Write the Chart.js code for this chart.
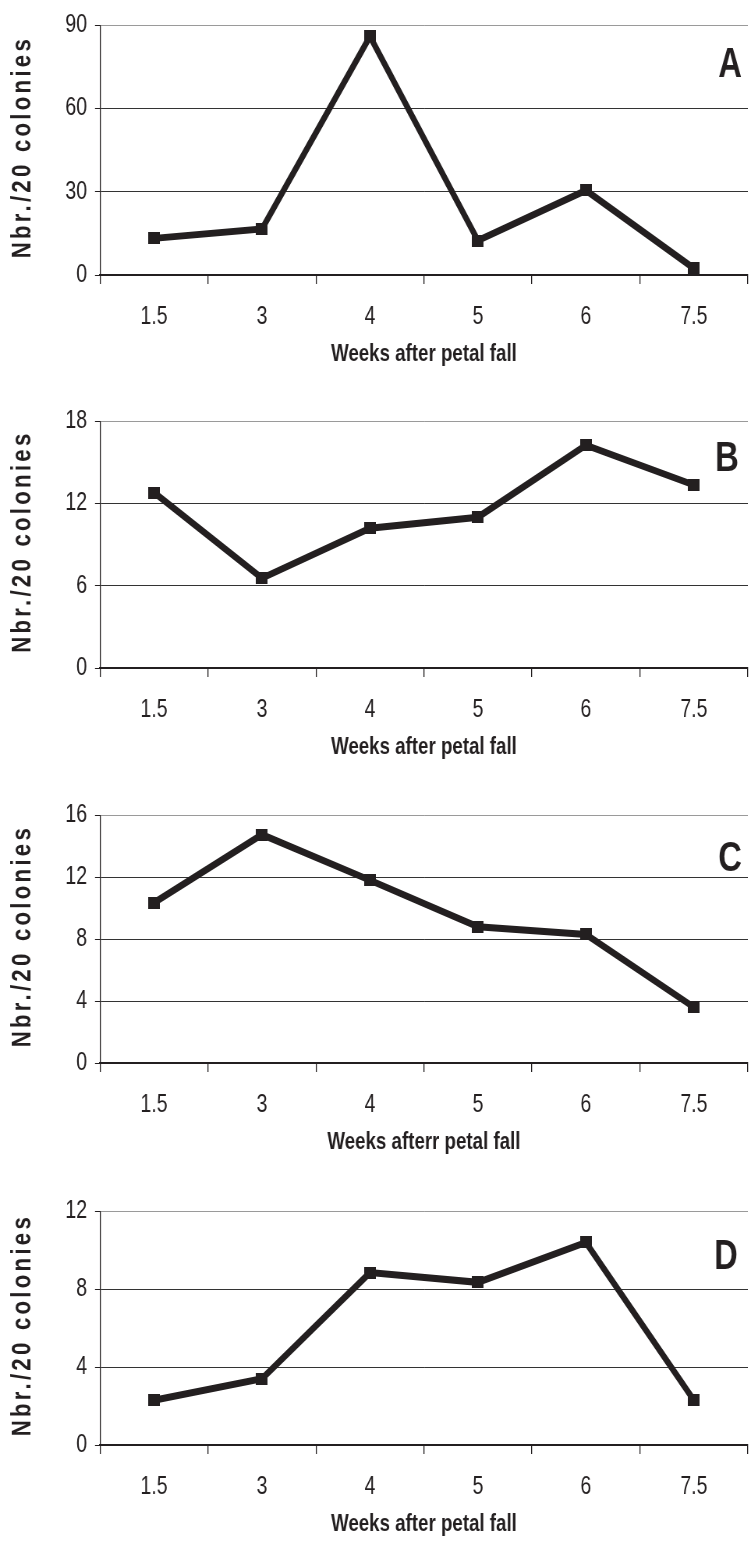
<!DOCTYPE html>
<html>
<head>
<meta charset="utf-8">
<script src="https://cdn.jsdelivr.net/npm/chart.js@4.4.1/dist/chart.umd.min.js"></script>
<style>
  html, body { margin: 0; padding: 0; background: #fff; overflow: hidden; width: 753px; height: 1544px; }
  .panel { position: absolute; left: 0; width: 758px; }
  canvas { display: block; }
</style>
</head>
<body>
<div class="panel" style="top:0px"><canvas id="chartA" width="972" height="373" style="width:758px;height:373px"></canvas></div>
<div class="panel" style="top:396px"><canvas id="chartB" width="972" height="370" style="width:758px;height:370px"></canvas></div>
<div class="panel" style="top:790px"><canvas id="chartC" width="972" height="371" style="width:758px;height:371px"></canvas></div>
<div class="panel" style="top:1186px"><canvas id="chartD" width="972" height="357" style="width:758px;height:357px"></canvas></div>

<script>
// weeks after petal fall (x categories)
const weeks = ['1.5', '3', '4', '5', '6', '7.5'];

// Nbr./20 colonies, one series per panel
const seriesA = [13.2, 16.6, 86, 12.4, 30.5, 2.4];
const seriesB = [12.8, 6.55, 10.2, 11.0, 16.25, 13.35];
const seriesC = [10.35, 14.75, 11.8, 8.8, 8.3, 3.6];
const seriesD = [2.3, 3.4, 8.85, 8.35, 10.4, 2.3];

// y tick labels per panel
const ticksA = [0, 30, 60, 90];
const ticksB = [0, 6, 12, 18];
const ticksC = [0, 4, 8, 12, 16];
const ticksD = [0, 4, 8, 12];

const panelLetters = ['A', 'B', 'C', 'D'];
const xTitles = ['Weeks after petal fall', 'Weeks after petal fall', 'Weeks afterr petal fall', 'Weeks after petal fall'];
const yTitle = 'Nbr./20 colonies';

// the original figure is a condensed face; draw wide and squeeze the canvas with css
const SQUEEZE = 758 / 972;
const SANS = "'Liberation Sans', Arial, sans-serif";
const INK = '#231f20';

// square marker, pre-widened so it comes out square after the squeeze
const marker = document.createElement('canvas');
marker.width = Math.round(12 / SQUEEZE);
marker.height = 12;
const mctx = marker.getContext('2d');
mctx.fillStyle = INK;
mctx.fillRect(0, 0, marker.width, marker.height);

// panel letter + spaced-out y title
const panelText = {
    id: 'panelText',
    afterDraw(chart, args, opts) {
        const { ctx, chartArea } = chart;

        ctx.save();
        ctx.font = 'bold 42px ' + SANS;
        ctx.fillStyle = INK;
        ctx.textAlign = 'center';
        ctx.textBaseline = 'alphabetic';
        ctx.fillText(opts.letter, opts.letterX / SQUEEZE, chartArea.top + opts.letterDy);
        ctx.restore();

        ctx.save();
        ctx.translate(23 / SQUEEZE, (chartArea.top + chartArea.bottom) / 2 - 3);
        ctx.scale(1 / SQUEEZE, 1);
        ctx.rotate(-Math.PI / 2);
        ctx.scale(0.82, 1);
        ctx.font = 'bold 27px ' + SANS;
        ctx.letterSpacing = '4px';
        ctx.fillStyle = INK;
        ctx.textAlign = 'center';
        ctx.textBaseline = 'middle';
        ctx.fillText(yTitle, 0, 0);
        ctx.restore();
    }
};

function makeChart(id, values, yTicks, letter, xTitle, letterX, letterDy) {
    const yMax = yTicks[yTicks.length - 1];
    return new Chart(document.getElementById(id), {
        type: 'line',
        data: {
            labels: weeks,
            datasets: [{
                data: values,
                borderColor: INK,
                backgroundColor: INK,
                borderWidth: 7,
                tension: 0,
                fill: false,
                pointStyle: marker,
                pointRadius: 6,
                pointBackgroundColor: INK,
                pointBorderColor: INK
            }]
        },
        options: {
            responsive: false,
            animation: false,
            layout: { padding: { top: 21, left: 0, right: 0, bottom: 0 } },
            plugins: {
                legend: { display: false },
                tooltip: { enabled: false },
                panelText: { letter: letter, letterX: letterX, letterDy: letterDy }
            },
            scales: {
                x: {
                    offset: true,
                    afterFit: s => { s.height = 98; },
                    grid: {
                        offset: true,
                        drawOnChartArea: false,
                        drawTicks: true,
                        tickLength: 9,
                        color: INK,
                        lineWidth: 1.3
                    },
                    border: { display: true, color: INK, width: 2 },
                    ticks: {
                        color: INK,
                        padding: 18,
                        maxRotation: 0,
                        font: { family: SANS, size: 25 }
                    },
                    title: {
                        display: true,
                        text: xTitle,
                        color: INK,
                        padding: { top: 0, bottom: 4 },
                        font: { family: SANS, size: 24, weight: 'bold' }
                    }
                },
                y: {
                    min: 0,
                    max: yMax,
                    afterFit: s => { s.width = 100 / SQUEEZE; },
                    afterBuildTicks: s => { s.ticks = yTicks.map(v => ({ value: v })); },
                    grid: {
                        color: c => (c.tick && c.tick.value === yMax) ? '#9a9a9a' : '#333',
                        tickColor: INK,
                        tickLength: 5 / SQUEEZE,
                        lineWidth: 1
                    },
                    border: { display: true, color: INK, width: 1.3 },
                    ticks: {
                        color: INK,
                        padding: 8 / SQUEEZE,
                        font: { family: SANS, size: 25 }
                    },
                    title: { display: false, text: yTitle }
                }
            }
        },
        plugins: [panelText]
    });
}

makeChart('chartA', seriesA, ticksA, panelLetters[0], xTitles[0], 730, 52);
makeChart('chartB', seriesB, ticksB, panelLetters[1], xTitles[1], 727, 50);
makeChart('chartC', seriesC, ticksC, panelLetters[2], xTitles[2], 730, 56);
makeChart('chartD', seriesD, ticksD, panelLetters[3], xTitles[3], 726, 58);
</script>
</body>
</html>
